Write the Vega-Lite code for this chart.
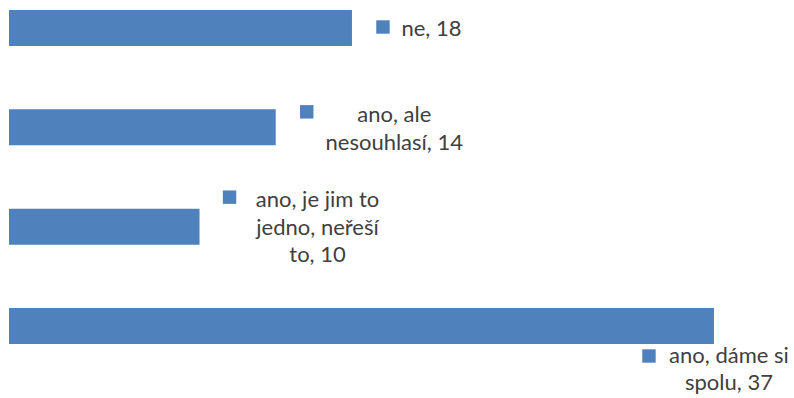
{
  "$schema": "https://vega.github.io/schema/vega-lite/v6.json",
  "width": 785,
  "height": 354,
  "padding": {"left": 9, "top": 0, "right": 0, "bottom": 44},
  "autosize": {"type": "none"},
  "background": "white",
  "config": {"view": {"stroke": null}},
  "data": {
    "values": [
      {"cat": "ne", "value": 18, "label": ["ne, 18"]},
      {"cat": "ano, ale nesouhlasí", "value": 14, "label": ["ano, ale", "nesouhlasí, 14"]},
      {"cat": "ano, je jim to jedno, neřeší to", "value": 10, "label": ["ano, je jim to", "jedno, neřeší", "to, 10"]},
      {"cat": "ano, dáme si spolu", "value": 37, "label": ["ano, dáme si", "spolu, 37"]}
    ]
  },
  "encoding": {
    "y": {"field": "cat", "type": "nominal", "sort": null, "axis": null,
          "scale": {"paddingInner": 0.6376, "paddingOuter": 0.1007}},
    "x": {"field": "value", "type": "quantitative", "axis": null,
          "scale": {"domain": [0, 41.2], "nice": false, "zero": true}}
  },
  "layer": [
    {"mark": {"type": "bar", "color": "#4F81BD"}},
    {"transform": [{"filter": "datum.cat === 'ne'"}],
     "mark": {"type": "text", "align": "center", "baseline": "middle", "dx": 79.5, "dy": 1, "font": "Lato", "fontSize": 22, "color": "#404040", "lineHeight": 27.5},
     "encoding": {"text": {"field": "label"}}},
    {"transform": [{"filter": "datum.cat === 'ano, ale nesouhlasí'"}],
     "mark": {"type": "text", "align": "center", "baseline": "middle", "dx": 118.5, "dy": -12, "font": "Lato", "fontSize": 22, "color": "#404040", "lineHeight": 27.5},
     "encoding": {"text": {"field": "label"}}},
    {"transform": [{"filter": "datum.cat === 'ano, je jim to jedno, neřeší to'"}],
     "mark": {"type": "text", "align": "center", "baseline": "middle", "dx": 118, "dy": -26.5, "font": "Lato", "fontSize": 22, "color": "#404040", "lineHeight": 27.5},
     "encoding": {"text": {"field": "label"}}},
    {"transform": [{"filter": "datum.cat === 'ano, dáme si spolu'"}],
     "mark": {"type": "text", "align": "center", "baseline": "middle", "dx": 15, "dy": 30, "font": "Lato", "fontSize": 22, "color": "#404040", "lineHeight": 27.5},
     "encoding": {"text": {"field": "label"}}},
    {"transform": [{"filter": "datum.cat === 'ne'"}],
     "mark": {"type": "point", "shape": "square", "filled": true, "opacity": 1, "size": 180, "color": "#4F81BD", "xOffset": 31, "yOffset": -1}},
    {"transform": [{"filter": "datum.cat === 'ano, ale nesouhlasí'"}],
     "mark": {"type": "point", "shape": "square", "filled": true, "opacity": 1, "size": 180, "color": "#4F81BD", "xOffset": 31, "yOffset": -15.5}},
    {"transform": [{"filter": "datum.cat === 'ano, je jim to jedno, neřeší to'"}],
     "mark": {"type": "point", "shape": "square", "filled": true, "opacity": 1, "size": 180, "color": "#4F81BD", "xOffset": 30, "yOffset": -29.5}},
    {"transform": [{"filter": "datum.cat === 'ano, dáme si spolu'"}],
     "mark": {"type": "point", "shape": "square", "filled": true, "opacity": 1, "size": 180, "color": "#4F81BD", "xOffset": -65, "yOffset": 30}}
  ]
}
